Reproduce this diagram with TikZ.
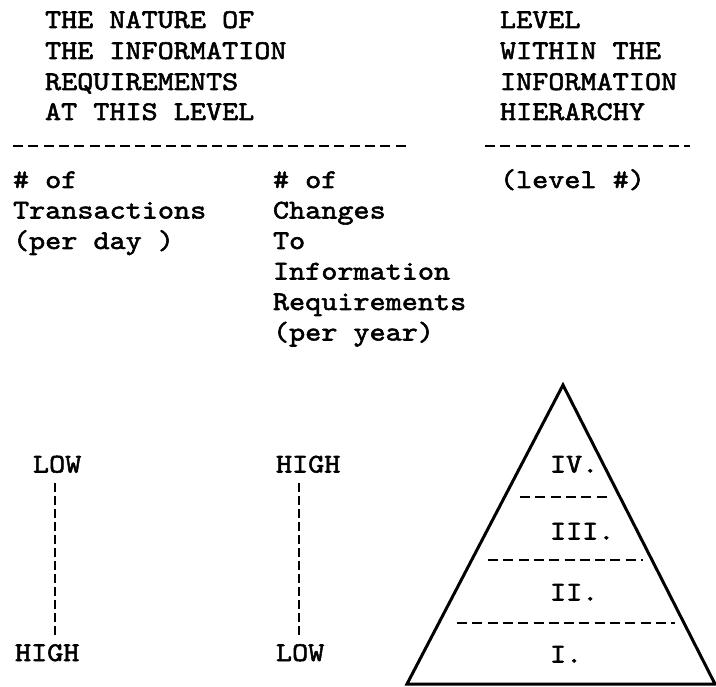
\documentclass[tikz,border=0pt]{standalone}
\usepackage{fontspec}
\newfontfamily\tw[Extension=.otf, FakeStretch=1.136, FakeBold=2]{lmmono10-regular}
\begin{document}
\begin{tikzpicture}[x=1pt,y=-1pt,
  txt/.style={font=\tw\fontsize{27}{30}\selectfont, inner sep=0pt, outer sep=0pt, anchor=base west},
  hdash/.style={line width=2.4pt, dash pattern=on 10pt off 5.3pt},
  vdash/.style={line width=2.2pt, dash pattern=on 9pt off 4pt},
  tri/.style={line width=3pt, line join=miter}]
\useasboundingbox (0,0) rectangle (716,687);
% header, left
\node[txt] (h1) at (45,28) {THE NATURE OF};
\node[txt] (h2) at (45,59) {THE INFORMATION};
\node[txt] (h3) at (45,90) {REQUIREMENTS};
\node[txt] (h4) at (45,120) {AT THIS LEVEL};
% header, right
\node[txt] (r1) at (500,28) {LEVEL};
\node[txt] (r2) at (500,59) {WITHIN THE};
\node[txt] (r3) at (500,90) {INFORMATION};
\node[txt] (r4) at (500,120) {HIERARCHY};
% rules
\coordinate (d1a) at (13,146); \coordinate (d1b) at (410,146);
\coordinate (d2a) at (485,146); \coordinate (d2b) at (690,146);
\draw[hdash] (d1a) -- (d1b);
\draw[hdash] (d2a) -- (d2b);
% column 1
\node[txt] (a1) at (13,188) {\# of};
\node[txt] (a2) at (13,218.5) {Transactions};
\node[txt] (a3) at (13,249) {(per day )};
% column 2
\node[txt] (b1) at (273,188) {\# of};
\node[txt] (b2) at (273,218.5) {Changes};
\node[txt] (b3) at (273,249) {To};
\node[txt] (b4) at (273,279.5) {Information};
\node[txt] (b5) at (273,310) {Requirements};
\node[txt] (b6) at (273,340.5) {(per year)};
% column 3
\node[txt] (c1) at (500,188) {(level \#)};
% scales
\node[txt] (low1) at (33,472.5) {LOW};
\node[txt] (high1) at (15,661) {HIGH};
\node[txt] (high2) at (276,472.5) {HIGH};
\node[txt] (low2) at (276,661) {LOW};
\coordinate (v1a) at (55,483); \coordinate (v1b) at (55,635);
\coordinate (v2a) at (299,483); \coordinate (v2b) at (299,635);
\draw[vdash] (v1a) -- (v1b);
\draw[vdash] (v2a) -- (v2b);
% pyramid
\coordinate (apex) at (563,385);
\coordinate (bl) at (407,684);
\coordinate (br) at (715,684);
\draw[tri] (apex) -- (br) -- (bl) -- cycle;
\coordinate (p1a) at (520,497); \coordinate (p1b) at (611,497);
\coordinate (p2a) at (488,560); \coordinate (p2b) at (643,560);
\coordinate (p3a) at (457,623); \coordinate (p3b) at (675,623);
\draw[hdash] (p1a) -- (p1b);
\draw[hdash] (p2a) -- (p2b);
\draw[hdash] (p3a) -- (p3b);
\node[txt] (l4) at (550,472.5) {IV.};
\node[txt] (l3) at (550,539.5) {III.};
\node[txt] (l2) at (550,600.5) {II.};
\node[txt] (l1) at (550,662.5) {I.};
\end{tikzpicture}
\end{document}
